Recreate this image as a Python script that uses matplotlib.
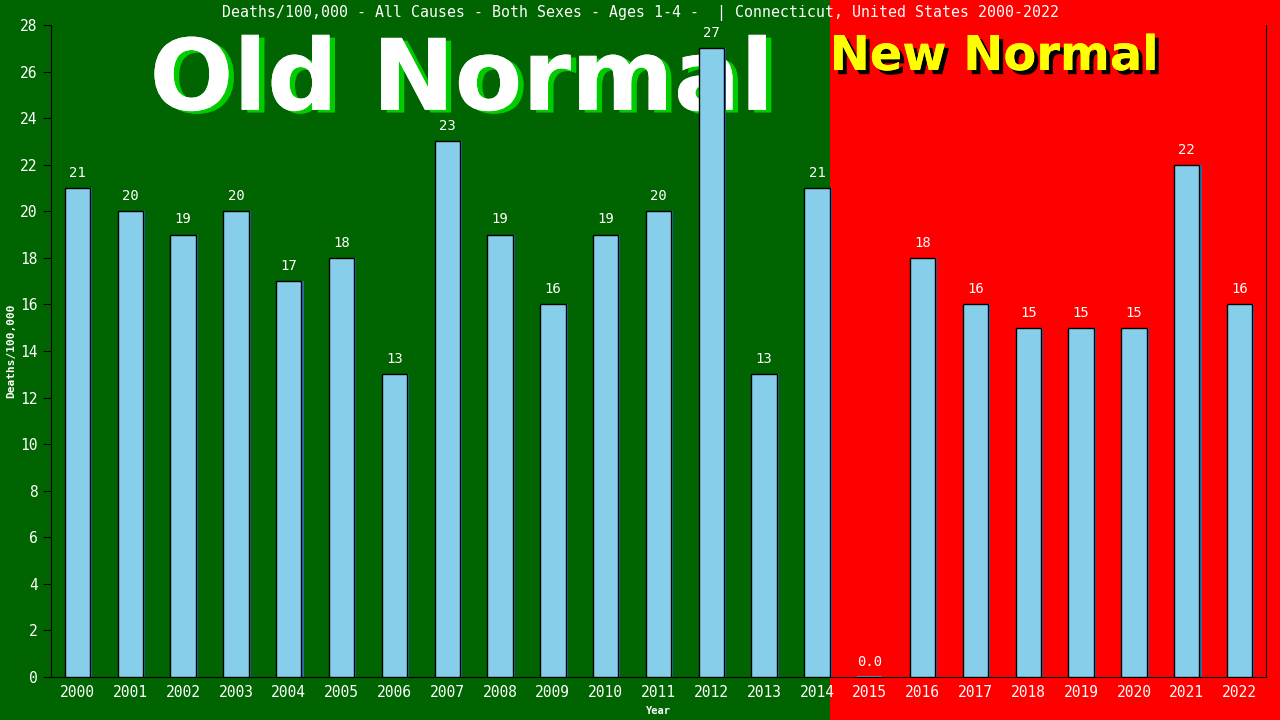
import numpy as np
import matplotlib.pyplot as plt
from matplotlib.patches import Rectangle
from matplotlib import transforms
import matplotlib.patheffects as pe

# data
years = list(range(2000, 2023))
deaths = [21, 20, 19, 20, 17, 18, 13, 23, 19, 16, 19, 20, 27, 13, 21, 0,
          18, 16, 15, 15, 15, 22, 16]
labels = ["21", "20", "19", "20", "17", "18", "13", "23", "19", "16", "19", "20",
          "27", "13", "21", "0.0", "18", "16", "15", "15", "15", "22", "16"]
split_year = 2014

mono = "DejaVu Sans Mono"

fig = plt.figure(figsize=(12.8, 7.2), dpi=100)
fig.patch.set_facecolor("#006400")
ax = fig.add_axes([51/1280, 1 - 677/720, 1215/1280, 652/720])
ax.set_facecolor("none")

x = np.arange(len(years))
xsplit = years.index(split_year) + 0.25

# green / red background over the whole figure
tr = transforms.blended_transform_factory(ax.transData, fig.transFigure)
fig.patches.append(Rectangle((-5, 0), xsplit + 5, 1, transform=tr,
                             facecolor="#006400", edgecolor="none", zorder=-2))
fig.patches.append(Rectangle((xsplit, 0), 50, 1, transform=tr,
                             facecolor="#ff0000", edgecolor="none", zorder=-2))

# big annotations (behind the bars)
ax.text(0.338, 0.87, "Old Normal", transform=ax.transAxes, ha="center", va="baseline",
        color="white", fontsize=71, fontweight="bold", family="DejaVu Sans", zorder=1,
        path_effects=[pe.withSimplePatchShadow(offset=(4, -2), shadow_rgbFace="#00cc00", alpha=1),
                      pe.Normal()])
ax.text(0.776, 0.931, "New Normal", transform=ax.transAxes, ha="center", va="baseline",
        color="yellow", fontsize=34.5, fontweight="bold", family="DejaVu Sans", zorder=1,
        path_effects=[pe.withSimplePatchShadow(offset=(3, -3), shadow_rgbFace="black", alpha=1),
                      pe.Normal()])

# bars with a little blue shadow
ax.bar(x + 0.04, deaths, width=0.48, color="#2a6fb0", edgecolor="none", zorder=2)
ax.bar(x, deaths, width=0.48, color="#87ceeb", edgecolor="black", linewidth=1, zorder=3)
ax.bar(x[15], 0.06, width=0.48, color="#4682b4", zorder=3)

for xi, v, lab in zip(x, deaths, labels):
    ax.text(xi, v + 0.35, lab, ha="center", va="bottom", color="white",
            fontsize=10, family=mono, zorder=4)

ax.set_xlim(-0.5, len(years) - 0.5)
ax.set_ylim(0, 28)
ax.set_yticks(range(0, 29, 2))
ax.set_xticks(x)
ax.set_xticklabels([str(y) for y in years])
ax.tick_params(axis="y", colors="black", labelcolor="white", labelsize=10.5, length=6)
ax.tick_params(axis="x", length=0, labelcolor="white", labelsize=10.5, pad=6)
for t in ax.get_xticklabels() + ax.get_yticklabels():
    t.set_family(mono)
for s in ["left", "bottom", "right"]:
    ax.spines[s].set_color("black")
ax.spines["top"].set_visible(False)

ax.set_xlabel("Year", color="white", fontsize=7.5, family=mono, labelpad=4, fontweight="bold")
ax.set_ylabel("Deaths/100,000", color="white", fontsize=8, family=mono, labelpad=3, fontweight="bold")

fig.text(0.5, 1 - 13/720, "Deaths/100,000 - All Causes - Both Sexes - Ages 1-4 -  | Connecticut, United States 2000-2022",
         ha="center", va="center", color="white", fontsize=10.7, family=mono)

fig.savefig("out.png", dpi=100, facecolor=fig.get_facecolor())
